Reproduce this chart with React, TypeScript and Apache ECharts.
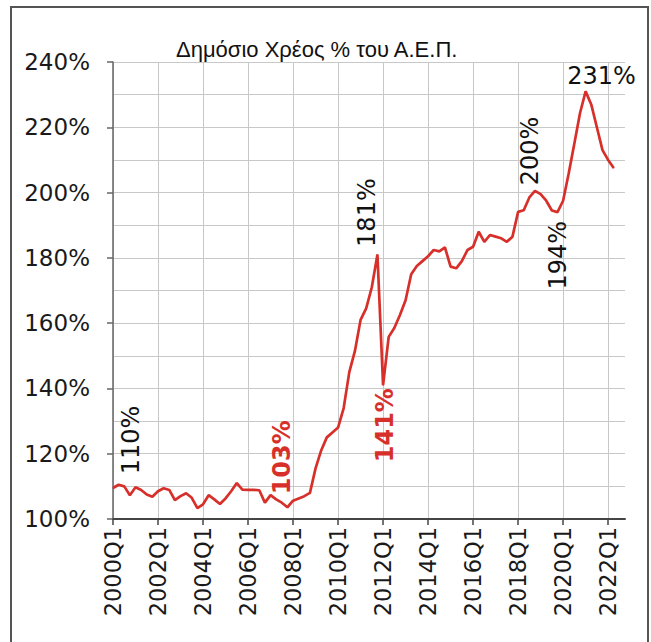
import React, { useEffect, useRef } from 'react';
import * as echarts from 'echarts';

const firstYear = 2000;
const lastYear = 2022;
const quarters: string[] = [];
for (let y = firstYear; y <= lastYear; y++) {
  for (let q = 1; q <= 4; q++) quarters.push(`${y}Q${q}`);
}

// Public debt % of GDP, quarterly, 2000Q1 .. 2022Q2
const debtRatio = [
  109.5, 110.5, 110, 107.3,
  109.7, 108.9, 107.5, 106.8,
  108.5, 109.4, 108.9, 105.8,
  107, 107.9, 106.5, 103.3,
  104.5, 107.3, 106, 104.6,
  106.3, 108.5, 111, 109,
  108.9, 108.9, 108.8, 105,
  107.3, 106, 105, 103.6,
  105.6, 106.3, 107, 108,
  115.5, 121, 125, 126.5,
  128, 134, 145, 151.5,
  161, 164.5, 171, 181,
  141, 155.8, 158.5, 162.5,
  167, 175, 177.5, 179,
  180.5, 182.4, 182, 183.2,
  177.3, 176.8, 179, 182.4,
  183.4, 188, 184.9, 187,
  186.5, 186, 184.9, 186.5,
  194.1, 194.6, 198.5, 200.5,
  199.5, 197.5, 194.5, 194,
  197.5, 205.9, 215, 224.3,
  231, 227, 220, 213,
  210, 207.5,
];

const annotationIdx = [0, 31, 47, 48, 75, 79, 84];
const annotationText = ['110%', '103%', '181%', '141%', '200%', '194%', '231%'];

const titleText = 'Δημόσιο Χρέος % του Α.Ε.Π.';

const RED = '#d7302b';
const FONT = "'DejaVu Sans', sans-serif";
const TITLE_FONT = "'Liberation Sans', Arial, sans-serif";

// offsets for rotated labels are given in the label's rotated frame: [-screenDy, screenDx]
const labelStyles: Record<number, any> = {
  0: { rotate: 90, color: '#111', offset: [48, 18] },
  31: { rotate: 90, color: RED, offset: [50, -5], fontWeight: 'bold' },
  47: { rotate: 90, color: '#111', offset: [42, -10] },
  48: { rotate: 90, color: RED, offset: [-40, 2], fontWeight: 'bold' },
  75: { rotate: 90, color: '#111', offset: [40, -5] },
  79: { rotate: 90, color: '#111', offset: [-43, 1] },
  84: { rotate: 0, color: '#111', offset: [16, -15] },
};

export default function App() {
  const ref = useRef<HTMLDivElement>(null);
  useEffect(() => {
    if (!ref.current) return;
    const chart = echarts.init(ref.current, null, { renderer: 'svg' });
    const seriesData = debtRatio.map((v, i) => {
      const k = annotationIdx.indexOf(i);
      if (k < 0) return v;
      const st = labelStyles[i];
      return {
        value: v,
        label: {
          show: true,
          formatter: annotationText[k],
          position: 'inside',
          align: 'center',
          verticalAlign: 'middle',
          fontSize: 24,
          fontFamily: FONT,
          ...st,
        },
      };
    });
    chart.setOption({
      animation: false,
      backgroundColor: '#fff',
      title: {
        text: titleText,
        left: 171,
        top: 33,
        textStyle: { fontSize: 22, fontWeight: 'normal', color: '#111', fontFamily: TITLE_FONT },
      },
      graphic: [
        {
          type: 'rect',
          shape: { x: 11, y: 7, width: 637, height: 700 },
          style: { fill: 'none', stroke: '#555', lineWidth: 2 },
          silent: true,
        },
      ],
      grid: { left: 113, right: 26, top: 62, bottom: 123, containLabel: false },
      xAxis: {
        type: 'category',
        data: quarters,
        boundaryGap: false,
        axisLine: { lineStyle: { color: '#444', width: 2 } },
        axisTick: { interval: 7, length: 6, lineStyle: { color: '#444', width: 1.5 } },
        axisLabel: {
          interval: 7,
          rotate: 90,
          fontSize: 22.5,
          color: '#1a1a1a',
          margin: 8,
          fontFamily: FONT,
        },
        splitLine: { show: true, interval: 7, lineStyle: { color: '#c8c8c8', width: 1 } },
      },
      yAxis: {
        type: 'value',
        min: 100,
        max: 240,
        interval: 20,
        axisLine: { show: true, lineStyle: { color: '#666', width: 1.5 } },
        axisTick: { show: true, length: 6, lineStyle: { color: '#666', width: 1.5 } },
        axisLabel: {
          formatter: (v: number) => `${v}%`,
          fontSize: 23,
          color: '#1a1a1a',
          margin: 23,
          fontFamily: FONT,
        },
        splitLine: { show: true, lineStyle: { color: '#c8c8c8', width: 1 } },
        minorTick: { show: false, splitNumber: 2 },
        minorSplitLine: { show: true, lineStyle: { color: '#c8c8c8', width: 1 } },
      },
      series: [
        {
          type: 'line',
          data: seriesData,
          symbol: 'circle',
          symbolSize: 1,
          showSymbol: true,
          showAllSymbol: true,
          lineStyle: { color: RED, width: 2.7 },
          itemStyle: { color: RED },
          z: 5,
        },
      ],
    });
    return () => chart.dispose();
  }, []);
  return (
    <div
      ref={ref}
      style={{ position: 'fixed', left: 0, top: 0, width: 651, height: 642 }}
    />
  );
}
